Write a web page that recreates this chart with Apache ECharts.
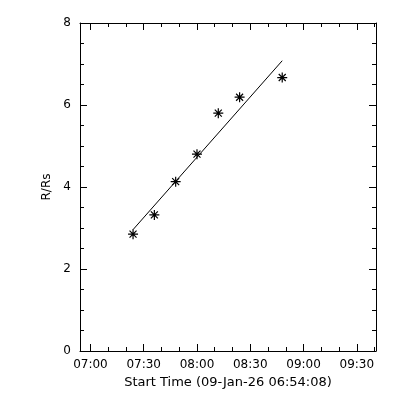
<!DOCTYPE html>
<html><head><meta charset="utf-8">
<script src="https://cdn.jsdelivr.net/npm/echarts@6/dist/echarts.min.js"></script>
<style>html,body{margin:0;padding:0;background:#fff}#c{width:400px;height:400px}</style>
</head><body><div id="c"></div>
<script>
// Observation times and heights (R/Rs)
const obsTimes = ['07:24','07:36','07:48','08:00','08:12','08:24','08:48'];
const radii = [2.85, 3.32, 4.13, 4.80, 5.80, 6.19, 6.67];
// Linear fit endpoints
const fitTimes = ['07:24','08:48'];
const fitRadii = [2.96, 7.08];
// Axis ticks
const majorTimeTicks = ['07:00','07:30','08:00','08:30','09:00','09:30'];
const minorTimeTicks = ['07:10','07:20','07:40','07:50','08:10','08:20','08:40','08:50','09:10','09:20','09:40'];
const timeStart = '06:54:08';
const timeEnd = '09:40:48';
const yTicks = [0, 2, 4, 6, 8];
const xTitle = 'Start Time (09-Jan-26 06:54:08)';
const yTitle = 'R/Rs';

function toMin(s) {
  const p = s.split(':').map(Number);
  return p[0] * 60 + p[1] + (p[2] || 0) / 60;
}
function fmt(v) {
  const m = Math.round(v);
  const h = Math.floor(m / 60), mm = m % 60;
  return String(h).padStart(2, '0') + ':' + String(mm).padStart(2, '0');
}
const majorX = majorTimeTicks.map(toMin);
const minorX = minorTimeTicks.map(toMin);
const xMin = toMin(timeStart), xMax = toMin(timeEnd);
const font = 'DejaVu Sans';

function xAx(pos, ticks, len, showLabel, showLine) {
  return {
    type: 'value', position: pos, min: xMin, max: xMax,
    splitLine: { show: false },
    axisLine: { show: showLine, onZero: false, lineStyle: { color: '#000', width: 1 } },
    axisTick: { show: true, inside: true, length: len, customValues: ticks, lineStyle: { color: '#000', width: 1 } },
    axisLabel: { show: showLabel, customValues: ticks, formatter: fmt, color: '#000', fontFamily: font, fontSize: 12, margin: 8 },
  };
}
const xAxes = [
  Object.assign(xAx('bottom', majorX, 7, true, true), { name: xTitle, nameLocation: 'middle', nameGap: 22, nameTextStyle: { color: '#000', fontFamily: font, fontSize: 13 } }),
  xAx('bottom', minorX, 4, false, false),
  xAx('top', majorX, 7, false, true),
  xAx('top', minorX, 4, false, false),
];
function yAx(pos, showLabel) {
  return {
    type: 'value', position: pos, min: yTicks[0], max: yTicks[yTicks.length - 1], interval: 2,
    splitLine: { show: false },
    axisLine: { show: true, onZero: false, lineStyle: { color: '#000', width: 1 } },
    axisTick: { show: true, inside: true, length: 7, lineStyle: { color: '#000', width: 1 } },
    minorTick: { show: true, splitNumber: 4, length: 4, lineStyle: { color: '#000', width: 1 } },
    axisLabel: { show: showLabel, color: '#000', fontFamily: font, fontSize: 12, margin: 9 },
  };
}
const yAxes = [
  Object.assign(yAx('left', true), { name: yTitle, nameLocation: 'middle', nameGap: 23, nameTextStyle: { color: '#000', fontFamily: font, fontSize: 12 } }),
  yAx('right', false),
];

const star = 'path://M0,5L10,5M5,0L5,10M1.5,1.5L8.5,8.5M8.5,1.5L1.5,8.5';
const chart = echarts.init(document.getElementById('c'), null, { renderer: 'canvas' });
chart.setOption({
  backgroundColor: '#fff',
  animation: false,
  grid: { left: 80, right: 24, top: 23, bottom: 49, containLabel: false, outerBoundsMode: 'none' },
  xAxis: xAxes,
  yAxis: yAxes,
  series: [
    {
      type: 'line', xAxisIndex: 0, yAxisIndex: 0, symbol: 'none',
      lineStyle: { color: '#000', width: 1 },
      data: fitTimes.map((t, i) => [toMin(t), fitRadii[i]]),
    },
    {
      type: 'scatter', xAxisIndex: 0, yAxisIndex: 0, symbol: star, symbolSize: 10,
      itemStyle: { color: 'rgba(0,0,0,0)', borderColor: '#000', borderWidth: 1.2, opacity: 1 },
      data: obsTimes.map((t, i) => [toMin(t), radii[i]]),
    },
  ],
});
</script></body></html>
